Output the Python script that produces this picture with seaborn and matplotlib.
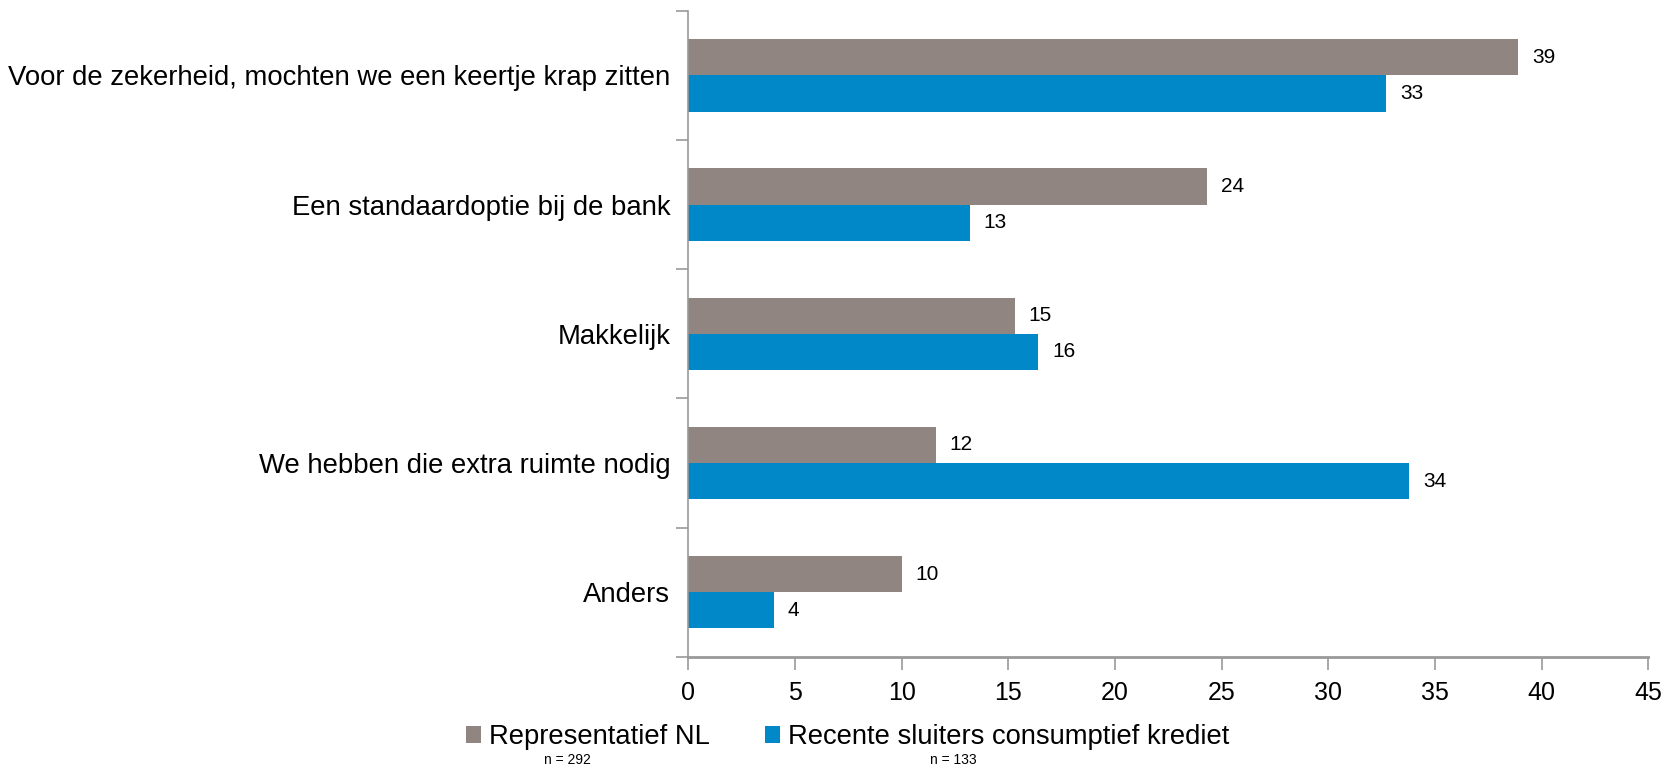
import numpy as np
import pandas as pd
import matplotlib
matplotlib.use('Agg')
import matplotlib.pyplot as plt
import seaborn as sns

categories = ['Voor de zekerheid, mochten we een keertje krap zitten',
              'Een standaardoptie bij de bank',
              'Makkelijk',
              'We hebben die extra ruimte nodig',
              'Anders']
groups = ['Representatief NL', 'Recente sluiters consumptief krediet']
group_n = ['n = 292', 'n = 133']
representatief = [38.9, 24.3, 15.3, 11.6, 10.0]
recente = [32.7, 13.2, 16.4, 33.8, 4.0]
x_ticks = [0, 5, 10, 15, 20, 25, 30, 35, 40, 45]

colors = ['#908580', '#0088C8']
axis_grey = '#999999'

df = pd.DataFrame({
    'categorie': categories * 2,
    'groep': [groups[0]] * len(categories) + [groups[1]] * len(categories),
    'waarde': representatief + recente,
})

sns.set_style('white')
plt.rcParams['font.family'] = ['Liberation Sans', 'DejaVu Sans']
plt.rcParams['text.color'] = 'black'
plt.rcParams['xtick.color'] = 'black'
plt.rcParams['ytick.color'] = 'black'

fig = plt.figure(figsize=(16.75, 7.71), dpi=100)
ax = fig.add_axes([0.411, 0.148, 0.573, 0.838])

sns.barplot(data=df, x='waarde', y='categorie', hue='groep', order=categories,
            hue_order=groups, palette=colors, orient='h', width=0.56,
            saturation=1, linewidth=0, ax=ax)

for cont in ax.containers:
    ax.bar_label(cont, fmt='%.0f', padding=10, fontsize=15, color='black')

ax.set_xlim(0, 45)
ax.set_ylim(len(categories) - 0.5, -0.5)
ax.set_xticks(x_ticks)
ax.set_xlabel('')
ax.set_ylabel('')

# excel style: y ticks on category boundaries
ax.set_yticks(np.arange(-0.5, len(categories), 1.0), minor=True)
ax.tick_params(axis='y', which='major', length=0, labelsize=19.8, pad=13, labelcolor='black')
ax.tick_params(axis='y', which='minor', length=9, color=axis_grey, width=1.2, direction='out', left=True)
ax.tick_params(axis='x', which='major', length=9, color=axis_grey, width=1.2, direction='out',
               labelsize=18, pad=8, bottom=True, labelcolor='black')

for side in ['top', 'right']:
    ax.spines[side].set_visible(False)
ax.spines['left'].set_color(axis_grey)
ax.spines['left'].set_linewidth(1.2)
ax.spines['bottom'].set_color(axis_grey)
ax.spines['bottom'].set_linewidth(2)

handles, labels = ax.get_legend_handles_labels()
ax.get_legend().remove()
fig.legend(handles, labels, loc='center', bbox_to_anchor=(0.506, 0.044), ncol=2,
           frameon=False, fontsize=19.7, handlelength=0.55, handleheight=0.55,
           handletextpad=0.3, columnspacing=2.0)

fig.text(0.339, 0.014, group_n[0], ha='center', va='center', fontsize=10)
fig.text(0.569, 0.014, group_n[1], ha='center', va='center', fontsize=10)

fig.savefig('out.png', dpi=100)
